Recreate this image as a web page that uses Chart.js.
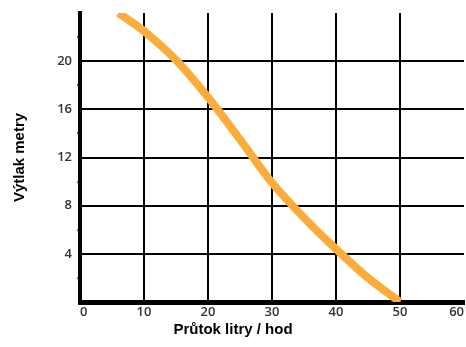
<!DOCTYPE html>
<html lang="cs">
<head>
  <meta charset="UTF-8">
  <title>Výtlak vs průtok</title>
  <script src="https://cdn.jsdelivr.net/npm/chart.js"></script>
  <style>
    html, body { margin: 0; padding: 0; background: #fff; }
    #wrap { width: 466px; height: 347px; }
  </style>
</head>
<body>
  <div id="wrap"><canvas id="pumpChart" width="466" height="347"></canvas></div>

  <script>
    // curve
    const flow = [6, 10, 15, 20, 25, 30, 35, 40, 45, 50];       // litry / hod
    const head = [24, 22.5, 20.1, 17.0, 13.5, 9.9, 7.0, 4.4, 2.0, 0]; // metry

    const xTicks = [0, 10, 20, 30, 40, 50, 60];
    const yLabels = [4, 8, 12, 16, 20];

    const tickFont = { family: '"Open Sans", sans-serif', size: 13, weight: '600' };
    const titleFont = { family: '"Liberation Sans", Arial, sans-serif', size: 15, weight: 'bold' };

    const ctx = document.getElementById('pumpChart').getContext('2d');

    new Chart(ctx, {
      type: 'line',
      data: {
        datasets: [{
          data: flow.map((x, i) => ({ x: x, y: head[i] })),
          borderColor: '#fbac3b',
          borderWidth: 8,
          borderCapStyle: 'butt',
          tension: 0.3,
          pointRadius: 0,
          fill: false
        }]
      },
      options: {
        responsive: false,
        animation: false,
        layout: { padding: { top: 13, right: 0, left: 0, bottom: 0 } },
        plugins: {
          legend: { display: false },
          tooltip: { enabled: false },
          title: {
            display: true,
            position: 'bottom',
            text: 'Průtok litry / hod',
            color: '#000',
            font: titleFont,
            padding: { top: 2, bottom: 8 }
          }
        },
        scales: {
          x: {
            type: 'linear',
            min: 0,
            max: 60,
            afterBuildTicks: (scale) => { scale.ticks = xTicks.map(v => ({ value: v })); },
            afterFit: (scale) => { scale.height = 17; },
            ticks: {
              align: 'inner',
              color: '#333',
              font: tickFont,
              padding: 2,
              maxRotation: 0
            },
            grid: {
              drawTicks: false,
              color: (c) => (c.tick && c.tick.value > 0 && c.tick.value < 60) ? '#000' : 'rgba(0,0,0,0)',
              lineWidth: 2
            },
            border: { display: true, color: '#000', width: 5 }
          },
          y: {
            type: 'linear',
            min: 0,
            max: 24,
            afterFit: (scale) => { scale.width = 80; },
            ticks: {
              stepSize: 2,
              color: '#333',
              font: tickFont,
              padding: 5,
              callback: (v) => yLabels.includes(v) ? String(v) : ''
            },
            grid: {
              tickLength: 3,
              lineWidth: 2,
              color: (c) => (c.tick && yLabels.includes(c.tick.value)) ? '#000' : 'rgba(0,0,0,0)',
              tickColor: (c) => (c.tick && c.tick.value > 0 && c.tick.value < 24 && !yLabels.includes(c.tick.value)) ? '#000' : 'rgba(0,0,0,0)',
              tickWidth: 1
            },
            border: { display: true, color: '#000', width: 4 },
            title: {
              display: true,
              text: 'Výtlak metry',
              color: '#000',
              font: titleFont,
              padding: { top: 11, bottom: 0 }
            }
          }
        }
      }
    });
  </script>
</body>
</html>
